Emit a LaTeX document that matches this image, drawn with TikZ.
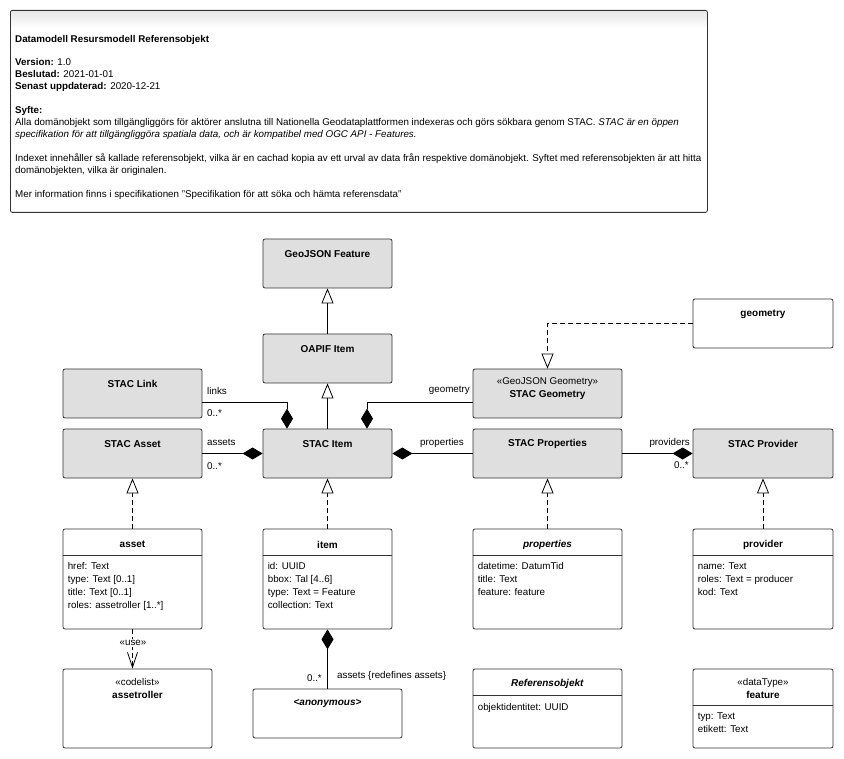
\documentclass[tikz,border=0pt]{standalone}
\usepackage{fontspec}
\setmainfont{Liberation Sans}
\usetikzlibrary{arrows.meta}

\tikzset{
  klass/.style={draw=black!80, line width=0.8pt, rounded corners=2pt, fill=gray!25, inner sep=0pt, minimum height=49},
  blank/.style={klass, fill=white},
  klassline/.style={draw=black!80, line width=0.8pt},
  cname/.style={font=\bfseries, inner sep=0pt},
  stereo/.style={inner sep=0pt},
  attrs/.style={align=left, anchor=north west, inner sep=0pt},
  lbl/.style={inner sep=0pt},
  comp/.style={line width=0.8pt, {Diamond[length=20pt,width=12pt]}-},
  gen/.style={line width=0.8pt, -{Triangle[open,length=15pt,width=12pt,fill=white]}},
  real/.style={gen, dash pattern=on 5pt off 3pt},
  dep/.style={line width=0.8pt, dash pattern=on 5pt off 3pt, -{Straight Barb[length=15pt,width=10pt]}},
}

\begin{document}
\begin{tikzpicture}[x=1pt,y=-1pt,font=\fontsize{9.8}{13}\selectfont]
	\useasboundingbox (0,0) rectangle (844,759);
	
	% note
	\shade[top color=gray!20, bottom color=white] (10.5,10.5) rectangle (706.5,28);
	\node[draw=black!80, line width=0.8pt, rounded corners=2pt, minimum width=697, minimum height=202, anchor=north west, inner sep=0pt] (note) at (10,10) {};
	\node[attrs, font=\fontsize{9.8}{12}\selectfont] (notetext) at (15,35.5) {\textbf{Datamodell Resursmodell Referensobjekt}\\[11pt]
		\textbf{Version:} 1.0\\
		\textbf{Beslutad:} 2021-01-01\\
		\textbf{Senast uppdaterad:} 2020-12-21\\[12pt]
		\textbf{Syfte:}\\
		Alla domänobjekt som tillgängliggörs för aktörer anslutna till Nationella Geodataplattformen indexeras och görs sökbara genom STAC. \textit{STAC är en öppen}\\
		\textit{specifikation för att tillgängliggöra spatiala data, och är kompatibel med OGC API - Features.}\\[12pt]
		Indexet innehåller så kallade referensobjekt, vilka är en cachad kopia av ett urval av data från respektive domänobjekt. Syftet med referensobjekten är att hitta\\
		domänobjekten, vilka är originalen.\\[12pt]
		Mer information finns i specifikationen "Specifikation för att söka och hämta referensdata"};
	
	% grey classes
	\foreach \n/\x/\y/\w/\txt in {feat/327.5/263.5/129/GeoJSON Feature, oapif/327.5/358.5/129/OAPIF Item,
		link/132.5/393.5/139/STAC Link, stacasset/132.5/453.5/139/STAC Asset, stacitem/327.5/453.5/129/STAC Item,
		stacprop/547.5/453.5/149/STAC Properties, stacprov/763/453.5/140/STAC Provider}{
		\node[klass, minimum width=\w] (\n) at (\x,\y) {};
		\node[cname] (\n-n) at ([yshift=-15.5pt]\n.north) {\txt};
	}
	\node[klass, minimum width=149] (stacgeom) at (547.5,393.5) {};
	\node[stereo] (stacgeom-s) at ([yshift=-13pt]stacgeom.north) {«GeoJSON Geometry»};
	\node[cname] (stacgeom-n) at ([yshift=-26pt]stacgeom.north) {STAC Geometry};
	\node[blank, minimum width=140] (geometry) at (763,323.5) {};
	\node[cname] (geometry-n) at ([yshift=-15.5pt]geometry.north) {geometry};
	
	% classes with attributes
	\foreach \n/\x/\w/\txt/\attr in {
		asset/132.5/139/asset/{href: Text\\type: Text [0..1]\\title: Text [0..1]\\roles: assetroller [1..*]},
		item/327.5/129/item/{id: UUID\\bbox: Tal [4..6]\\type: Text = Feature\\collection: Text},
		properties/547.5/149/\textit{properties}/{datetime: DatumTid\\title: Text\\feature: feature},
		provider/763/140/provider/{name: Text\\roles: Text = producer\\kod: Text}}{
		\node[blank, minimum width=\w, minimum height=100] (\n) at (\x,579) {};
		\node[cname] (\n-n) at ([yshift=-16pt]\n.north) {\txt};
		\draw[klassline] ([yshift=-27pt]\n.north west) -- ([yshift=-27pt]\n.north east);
		\node[attrs] (\n-a) at ([xshift=5pt,yshift=-34pt]\n.north west) {\attr};
	}
	
	% bottom row
	\node[blank, minimum width=149, minimum height=79] (assetroller) at (137.5,708.5) {};
	\node[stereo] (assetroller-s) at ([yshift=-13pt]assetroller.north) {«codelist»};
	\node[cname] (assetroller-n) at ([yshift=-26pt]assetroller.north) {assetroller};
	\node[blank, minimum width=149] (anon) at (327.5,713.5) {};
	\node[cname] (anon-n) at ([yshift=-15pt]anon.north) {\textit{<anonymous>}};
	\node[blank, minimum width=149, minimum height=79] (refobj) at (547.5,708.5) {};
	\node[cname] (refobj-n) at ([yshift=-15pt]refobj.north) {\textit{Referensobjekt}};
	\draw[klassline] ([yshift=-27pt]refobj.north west) -- ([yshift=-27pt]refobj.north east);
	\node[attrs] (refobj-a) at ([xshift=5pt,yshift=-35pt]refobj.north west) {objektidentitet: UUID};
	\node[blank, minimum width=140, minimum height=79] (feature) at (763,708.5) {};
	\node[stereo] (feature-s) at ([yshift=-14pt]feature.north) {«dataType»};
	\node[cname] (feature-n) at ([yshift=-26pt]feature.north) {feature};
	\draw[klassline] ([yshift=-37pt]feature.north west) -- ([yshift=-37pt]feature.north east);
	\node[attrs] (feature-a) at ([xshift=5pt,yshift=-44pt]feature.north west) {typ: Text\\etikett: Text};
	
	% connectors
	\draw[gen] (oapif.north) -- (feat.south);
	\draw[gen] (stacitem.north) -- (oapif.south);
	\coordinate (linkbend) at (287,402);
	\draw[comp] (stacitem.north -| linkbend) -- (linkbend) -- (link.east |- linkbend);
	\coordinate (geombend) at (367,402);
	\draw[comp] (stacitem.north -| geombend) -- (geombend) -- (stacgeom.west |- geombend);
	\draw[comp] (stacitem.west) -- (stacasset.east);
	\draw[comp] (stacitem.east) -- (stacprop.west);
	\draw[comp] (stacprov.west) -- (stacprop.east);
	\draw[real] (geometry.west) -- (geometry.west -| stacgeom.north) -- (stacgeom.north);
	\draw[real] (asset.north) -- (stacasset.south);
	\draw[real] (item.north) -- (stacitem.south);
	\draw[real] (properties.north) -- (stacprop.south);
	\draw[real] (provider.north) -- (stacprov.south);
	\draw[dep] (asset.south) -- (asset.south |- assetroller.north);
	\draw[comp] (item.south) -- (anon.north);
	
	% labels
	\node[lbl, anchor=west] (links-r) at (207,391) {links};
	\node[lbl, anchor=west] (links-m) at (207,413) {0..*};
	\node[lbl, anchor=west] (assets-r) at (207,442) {assets};
	\node[lbl, anchor=west] (assets-m) at (207,466) {0..*};
	\node[lbl, anchor=east] (geom-r) at (470,390) {geometry};
	\node[lbl, anchor=west] (prop-r) at (420,443) {properties};
	\node[lbl, anchor=east] (prov-r) at (690,443) {providers};
	\node[lbl, anchor=east] (prov-m) at (689,465) {0..*};
	\node[lbl, fill=white, inner sep=1.5pt] (use-s) at (133,643) {«use»};
	\node[lbl, anchor=east] (anon-m) at (322,678) {0..*};
	\node[lbl, anchor=west] (anon-r) at (337,676) {assets \{redefines assets\}};
\end{tikzpicture}
\end{document}
